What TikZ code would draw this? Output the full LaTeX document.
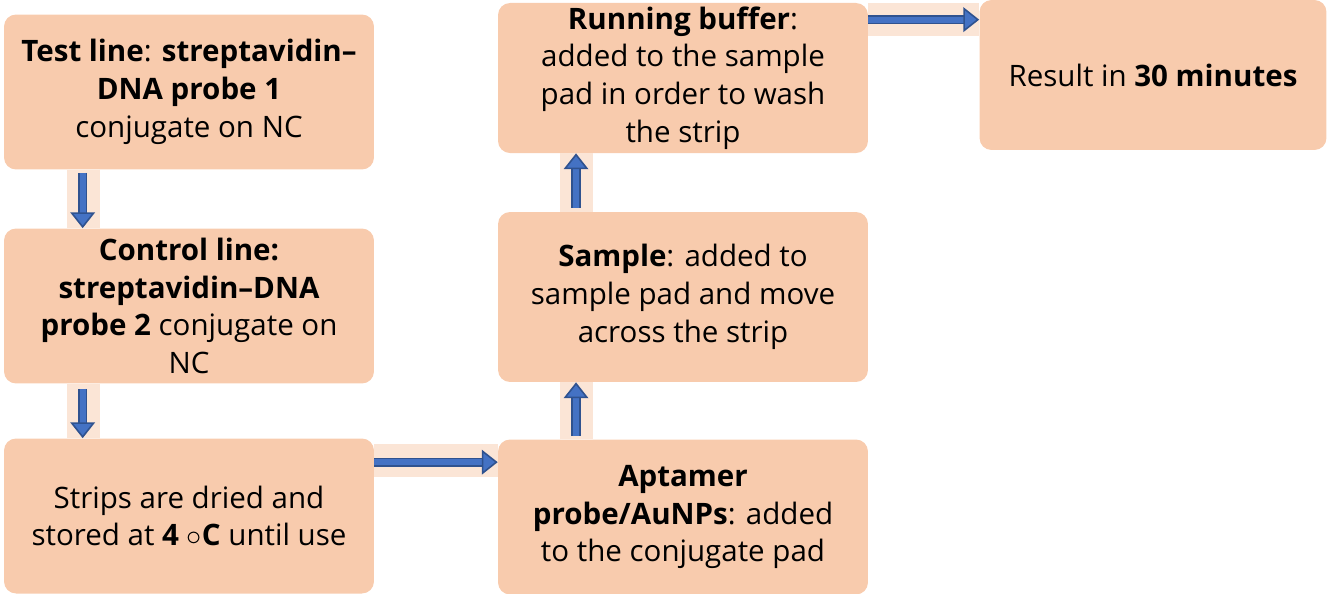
\documentclass[tikz,border=0pt]{standalone}
\usepackage{fontspec}
\setmainfont{Open Sans}
\usetikzlibrary{arrows.meta,positioning}

\definecolor{boxpeach}{HTML}{F8CBAD}
\definecolor{gappeach}{HTML}{FBE5D6}
\definecolor{flowblue}{HTML}{4472C4}
\definecolor{flowdark}{HTML}{2F528F}

\tikzset{
  stepbox/.style={fill=boxpeach, rounded corners=0.24cm, minimum width=7.4cm,
    minimum height=3.1cm, align=center, font=\fontsize{16.8}{21.5}\selectfont, inner sep=2pt},
  gap/.style={draw=gappeach, line width=0.66cm},
  flow/.style={draw=flowdark, double=flowblue, line width=0.9pt, double distance=3.4pt,
    -{Triangle[width=14pt,length=9pt,fill=flowblue]}}
}

\begin{document}
\begin{tikzpicture}[x=0.02cm, y=-0.02cm]
  \useasboundingbox (0,0) rectangle (1327,593);

  % left column
  \node[stepbox] (test) at (189, 92) {\textbf{Test line}: \textbf{streptavidin--}\\ \textbf{DNA probe 1}\\ conjugate on NC};
  \node[stepbox] (ctrl) at (189, 306) {\textbf{Control line:}\\ \textbf{streptavidin--DNA}\\ \textbf{probe 2} conjugate on\\ NC};
  \node[stepbox] (dry) at (189, 516) {Strips are dried and\\ stored at \textbf{4} $\circ$\textbf{C} until use};

  % middle column
  \node[stepbox] (apt) at (683, 517) {\textbf{Aptamer}\\ \textbf{probe/AuNPs}: added\\ to the conjugate pad};
  \node[stepbox, minimum height=3.4cm] (sample) at (683, 297) {\textbf{Sample}: added to\\ sample pad and move\\ across the strip};
  \node[stepbox, minimum height=3cm] (buffer) at (683, 78) {\textbf{Running buffer}:\\ added to the sample\\ pad in order to wash\\ the strip};

  % right
  \node[stepbox, minimum width=6.94cm, minimum height=3cm] (result) at (1153, 75) {Result in \textbf{30 minutes}};

  % light bands behind the arrows
  \draw[gap] ([xshift=1.6cm]test.south west) -- ([xshift=1.6cm]ctrl.north west);
  \draw[gap] ([xshift=1.6cm]ctrl.south west) -- ([xshift=1.6cm]dry.north west);
  \draw[gap] ([yshift=-0.44cm]dry.north east) -- ([yshift=-0.44cm]dry.north east -| apt.west);
  \draw[gap] ([xshift=-2.14cm]apt.north) -- ([xshift=-2.14cm]sample.south);
  \draw[gap] ([xshift=-2.14cm]sample.north) -- ([xshift=-2.14cm]buffer.south);
  \draw[gap] ([yshift=-0.34cm]buffer.north east) -- ([yshift=-0.34cm]buffer.north east -| result.west);

  % arrows
  \draw[flow] ([xshift=1.58cm,yshift=-0.06cm]test.south west) -- ([xshift=1.58cm]ctrl.north west);
  \draw[flow] ([xshift=1.58cm,yshift=-0.1cm]ctrl.south west) -- ([xshift=1.58cm]dry.north west);
  \draw[flow] ([yshift=-0.48cm]dry.north east) -- ([yshift=-0.48cm]dry.north east -| apt.west);
  \draw[flow] ([xshift=-2.14cm,yshift=0.06cm]apt.north) -- ([xshift=-2.14cm]sample.south);
  \draw[flow] ([xshift=-2.14cm,yshift=0.08cm]sample.north) -- ([xshift=-2.14cm]buffer.south);
  \draw[flow] ([yshift=-0.34cm]buffer.north east) -- ([yshift=-0.34cm]buffer.north east -| result.west);
\end{tikzpicture}
\end{document}
